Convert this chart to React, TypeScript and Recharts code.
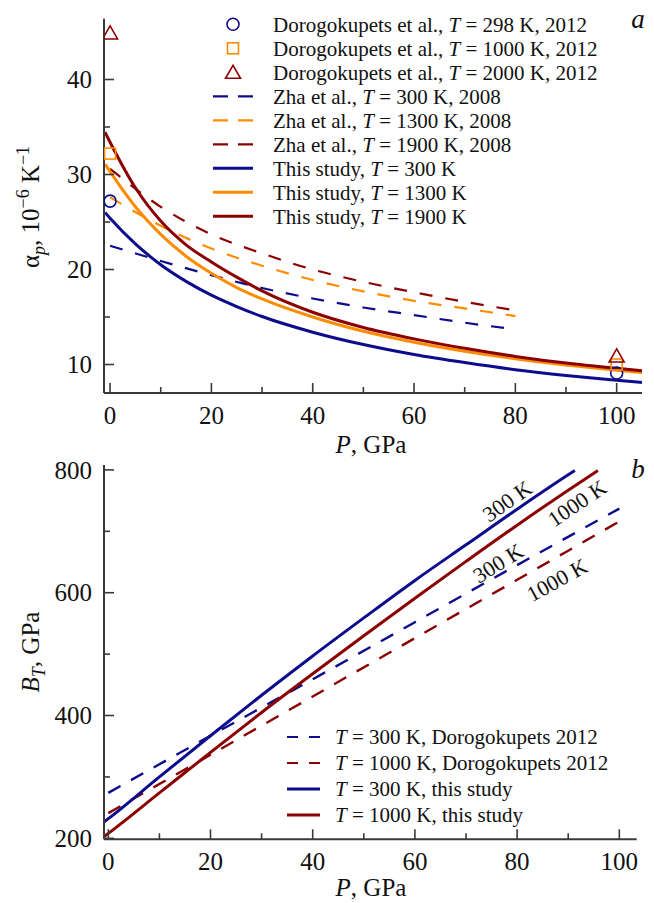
import React from 'react';
import { ComposedChart, Line, Scatter, XAxis, YAxis } from 'recharts';

const NAVY = '#0c0c8c';
const ORANGE = '#ff8c00';
const DARKRED = '#8b0000';
const AXIS = '#3a3a3a';
const FONT = "'Liberation Serif', 'Times New Roman', Times, serif";
const textStyle = { fontFamily: FONT };

// panel a: thermal expansion coefficient vs pressure
const pThis = [-1, 0, 5, 10, 15, 20, 25, 30, 40, 50, 60, 70, 80, 90, 100, 105];
const alphaThis300 = [26.0, 25.4, 22.7, 20.5, 18.75, 17.3, 16.1, 15.05, 13.4, 12.1, 11.05, 10.2, 9.45, 8.85, 8.35, 8.1];
const alphaThis1300 = [31.1, 30.3, 26.6, 23.7, 21.4, 19.6, 18.1, 16.9, 15.0, 13.5, 12.35, 11.4, 10.6, 9.95, 9.4, 9.15];
const alphaThis1900 = [34.45, 33.4, 28.6, 25.1, 22.6, 20.8, 19.2, 17.75, 15.5, 13.9, 12.7, 11.7, 10.85, 10.15, 9.6, 9.35];

const pZha = [0, 10, 20, 30, 40, 50, 60, 70, 80];
const alphaZha300 = [22.5, 20.9, 19.4, 18.05, 16.95, 16.0, 15.2, 14.4, 13.7];
const alphaZha1300 = [27.6, 24.6, 22.2, 20.4, 18.9, 17.7, 16.7, 15.9, 15.1];
const alphaZha1900 = [30.6, 26.6, 23.7, 21.7, 20.0, 18.7, 17.6, 16.6, 15.7];

const pDoro = [0, 100];
const alphaDoro298 = [27.2, 9.1];
const alphaDoro1000 = [32.2, 10.0];
const alphaDoro2000 = [44.9, 10.9];

// panel b: isothermal bulk modulus vs pressure
const pB300 = [-0.8, 0, 10, 20, 30, 40, 50, 60, 70, 80, 90, 91.3];
const bThis300 = [227, 232, 300, 367, 433, 497, 559, 620, 678, 736, 792, 799];
const pB1000 = [-0.8, 0, 10, 20, 30, 40, 50, 60, 70, 80, 90, 95.8];
const bThis1000 = [203, 208, 274, 340, 405, 468, 530, 591, 651, 710, 767, 799];
const pBDoro = [0, 20, 40, 60, 80, 100];
const bDoro300 = [274, 367, 459, 552, 645, 737];
const bDoro1000 = [241, 336, 431, 526, 621, 716];

const xTicks = [0, 10, 20, 30, 40, 50, 60, 70, 80, 90, 100];
const xLabels = [0, 20, 40, 60, 80, 100];
const yTicksA = [10, 15, 20, 25, 30, 35, 40];
const yLabelsA = [10, 20, 30, 40];
const yTicksB = [200, 300, 400, 500, 600, 700, 800];
const yLabelsB = [200, 400, 600, 800];

const zip = (xs: number[], ys: number[]) => xs.map((x, i) => ({ x, y: ys[i] }));

const makeXTick = (labels: number[]) => (props: any) => {
  const { x, y, payload } = props;
  const major = labels.includes(payload.value);
  return (
    <g>
      <line x1={x} x2={x} y1={y} y2={y - (major ? 10 : 6)} stroke={AXIS} strokeWidth={1.6} />
      {major && (
        <text x={x} y={y + 31} textAnchor="middle" fontSize={25} style={textStyle} fill="#111">
          {payload.value}
        </text>
      )}
    </g>
  );
};

const makeYTick = (labels: number[]) => (props: any) => {
  const { x, y, payload } = props;
  const major = labels.includes(payload.value);
  return (
    <g>
      <line x1={x} x2={x + (major ? 10 : 6)} y1={y} y2={y} stroke={AXIS} strokeWidth={1.6} />
      {major && (
        <text x={x - 12} y={y} dy="0.35em" textAnchor="end" fontSize={25} style={textStyle} fill="#111">
          {payload.value}
        </text>
      )}
    </g>
  );
};

const circleShape = (p: any) => <circle cx={p.cx} cy={p.cy} r={6} fill="none" stroke={NAVY} strokeWidth={1.6} />;
const squareShape = (p: any) => (
  <rect x={p.cx - 5.5} y={p.cy - 5.5} width={11} height={11} fill="none" stroke={ORANGE} strokeWidth={1.6} />
);
const triangleShape = (p: any) => (
  <polygon
    points={`${p.cx - 7.5},${p.cy + 6} ${p.cx + 7.5},${p.cy + 6} ${p.cx},${p.cy - 7}`}
    fill="none"
    stroke={DARKRED}
    strokeWidth={1.6}
  />
);

const legendA = [
  { kind: 'circle', color: NAVY, pre: 'Dorogokupets et al., ', post: ' = 298 K, 2012' },
  { kind: 'square', color: ORANGE, pre: 'Dorogokupets et al., ', post: ' = 1000 K, 2012' },
  { kind: 'triangle', color: DARKRED, pre: 'Dorogokupets et al., ', post: ' = 2000 K, 2012' },
  { kind: 'dash', color: NAVY, pre: 'Zha et al., ', post: ' = 300 K, 2008' },
  { kind: 'dash', color: ORANGE, pre: 'Zha et al., ', post: ' = 1300 K, 2008' },
  { kind: 'dash', color: DARKRED, pre: 'Zha et al., ', post: ' = 1900 K, 2008' },
  { kind: 'solid', color: NAVY, pre: 'This study, ', post: ' = 300 K' },
  { kind: 'solid', color: ORANGE, pre: 'This study, ', post: ' = 1300 K' },
  { kind: 'solid', color: DARKRED, pre: 'This study, ', post: ' = 1900 K' },
];

const legendB = [
  { kind: 'dash', color: NAVY, pre: '', post: ' = 300 K, Dorogokupets 2012' },
  { kind: 'dash', color: DARKRED, pre: '', post: ' = 1000 K, Dorogokupets 2012' },
  { kind: 'solid', color: NAVY, pre: '', post: ' = 300 K, this study' },
  { kind: 'solid', color: DARKRED, pre: '', post: ' = 1000 K, this study' },
];

const curveLabels = [
  { text: '300 K', x: 507, y: 501, angle: -35 },
  { text: '1000 K', x: 577, y: 503, angle: -34 },
  { text: '300 K', x: 498, y: 563, angle: -32 },
  { text: '1000 K', x: 557, y: 580, angle: -29 },
];

const LegendRow = ({ item, y, x0, x1, tx, dash }: any) => {
  const mid = (x0 + x1) / 2;
  let marker = null;
  if (item.kind === 'circle') marker = circleShape({ cx: mid, cy: y });
  else if (item.kind === 'square') marker = squareShape({ cx: mid, cy: y });
  else if (item.kind === 'triangle') marker = triangleShape({ cx: mid, cy: y });
  else
    marker = (
      <line
        x1={x0}
        x2={x1}
        y1={y}
        y2={y}
        stroke={item.color}
        strokeWidth={item.kind === 'dash' ? 2.2 : 3}
        strokeDasharray={item.kind === 'dash' ? dash : undefined}
      />
    );
  return (
    <g>
      {marker}
      <text x={tx} y={y} dy="0.35em" fontSize={21} style={textStyle} fill="#111">
        {item.pre}
        <tspan fontStyle="italic">T</tspan>
        {item.post}
      </text>
    </g>
  );
};

const Overlay = () => (
  <svg width={654} height={903} style={{ position: 'absolute', left: 0, top: 0, pointerEvents: 'none' }}>
    {legendA.map((item, i) => (
      <LegendRow key={i} item={item} y={24.3 + i * 24} x0={213} x1={253} tx={273} dash="15 10" />
    ))}
    {legendB.map((item, i) => (
      <LegendRow key={i} item={item} y={737 + i * 26} x0={287} x1={320} tx={335} dash="11 11" />
    ))}
    {curveLabels.map((c, i) => (
      <text
        key={i}
        x={c.x}
        y={c.y}
        dy="0.35em"
        textAnchor="middle"
        fontSize={22}
        style={textStyle}
        fill="#111"
        transform={`rotate(${c.angle}, ${c.x}, ${c.y})`}
      >
        {c.text}
      </text>
    ))}
    <text x={638} y={28} textAnchor="middle" fontSize={27} fontStyle="italic" style={textStyle} fill="#111">a</text>
    <text x={638} y={478} textAnchor="middle" fontSize={27} fontStyle="italic" style={textStyle} fill="#111">b</text>

    <text x={371} y={453} textAnchor="middle" fontSize={25} style={textStyle} fill="#111">
      <tspan fontStyle="italic">P</tspan>, GPa
    </text>
    <text x={371} y={896} textAnchor="middle" fontSize={25} style={textStyle} fill="#111">
      <tspan fontStyle="italic">P</tspan>, GPa
    </text>

    <text
      x={30}
      y={207}
      dy="0.35em"
      textAnchor="middle"
      fontSize={25}
      style={textStyle}
      fill="#111"
      transform="rotate(-90, 30, 207)"
    >
      α<tspan fontStyle="italic" fontSize={18} dy={6}>p</tspan>
      <tspan dy={-6}>, 10</tspan>
      <tspan fontSize={18} dy={-10}>−6</tspan>
      <tspan dy={10}> K</tspan>
      <tspan fontSize={18} dy={-10}>−1</tspan>
    </text>
    <text
      x={30}
      y={652}
      dy="0.35em"
      textAnchor="middle"
      fontSize={25}
      style={textStyle}
      fill="#111"
      transform="rotate(-90, 30, 652)"
    >
      <tspan fontStyle="italic">B</tspan>
      <tspan fontStyle="italic" fontSize={18} dy={6}>T</tspan>
      <tspan dy={-6}>, GPa</tspan>
    </text>
  </svg>
);

const axisLine = { stroke: AXIS, strokeWidth: 2 };

const App = () => {
  return (
    <div style={{ position: 'absolute', left: 0, top: 0, width: 654, height: 903, background: '#fff' }}>
      <div style={{ position: 'absolute', left: 0, top: 0 }}>
        <ComposedChart width={654} height={450} margin={{ top: 18.7, right: 12, left: 0, bottom: 0 }}>
          <XAxis
            type="number"
            dataKey="x"
            domain={[-1.2, 105]}
            allowDataOverflow
            ticks={xTicks}
            interval={0}
            tickLine={false}
            tickSize={0}
            tickMargin={0}
            height={57}
            axisLine={axisLine}
            tick={makeXTick(xLabels)}
          />
          <YAxis
            type="number"
            dataKey="y"
            domain={[7, 46.4]}
            allowDataOverflow
            ticks={yTicksA}
            interval={0}
            tickLine={false}
            tickSize={0}
            tickMargin={0}
            width={104}
            axisLine={axisLine}
            tick={makeYTick(yLabelsA)}
          />
          <Scatter data={zip(pDoro, alphaDoro298)} dataKey="y" shape={circleShape} isAnimationActive={false} />
          <Scatter data={zip(pDoro, alphaDoro1000)} dataKey="y" shape={squareShape} isAnimationActive={false} />
          <Scatter data={zip(pDoro, alphaDoro2000)} dataKey="y" shape={triangleShape} isAnimationActive={false} />
          <Line data={zip(pZha, alphaZha300)} dataKey="y" type="monotone" stroke={NAVY} strokeWidth={2.2} strokeDasharray="13 13" dot={false} activeDot={false} isAnimationActive={false} />
          <Line data={zip(pZha, alphaZha1300)} dataKey="y" type="monotone" stroke={ORANGE} strokeWidth={2.2} strokeDasharray="13 13" dot={false} activeDot={false} isAnimationActive={false} />
          <Line data={zip(pZha, alphaZha1900)} dataKey="y" type="monotone" stroke={DARKRED} strokeWidth={2.2} strokeDasharray="13 13" dot={false} activeDot={false} isAnimationActive={false} />
          <Line data={zip(pThis, alphaThis300)} dataKey="y" type="monotone" stroke={NAVY} strokeWidth={3} dot={false} activeDot={false} isAnimationActive={false} />
          <Line data={zip(pThis, alphaThis1300)} dataKey="y" type="monotone" stroke={ORANGE} strokeWidth={3} dot={false} activeDot={false} isAnimationActive={false} />
          <Line data={zip(pThis, alphaThis1900)} dataKey="y" type="monotone" stroke={DARKRED} strokeWidth={3} dot={false} activeDot={false} isAnimationActive={false} />
        </ComposedChart>
      </div>
      <div style={{ position: 'absolute', left: 0, top: 450 }}>
        <ComposedChart width={654} height={453} margin={{ top: 15, right: 17.3, left: 0, bottom: 0 }}>
          <XAxis
            type="number"
            dataKey="x"
            domain={[-0.84, 103.4]}
            allowDataOverflow
            ticks={xTicks}
            interval={0}
            tickLine={false}
            tickSize={0}
            tickMargin={0}
            height={63.7}
            axisLine={axisLine}
            tick={makeXTick(xLabels)}
          />
          <YAxis
            type="number"
            dataKey="y"
            domain={[198.4, 808]}
            allowDataOverflow
            ticks={yTicksB}
            interval={0}
            tickLine={false}
            tickSize={0}
            tickMargin={0}
            width={104}
            axisLine={axisLine}
            tick={makeYTick(yLabelsB)}
          />
          <Line data={zip(pBDoro, bDoro300)} dataKey="y" type="monotone" stroke={NAVY} strokeWidth={2.4} strokeDasharray="14 12" dot={false} activeDot={false} isAnimationActive={false} />
          <Line data={zip(pBDoro, bDoro1000)} dataKey="y" type="monotone" stroke={DARKRED} strokeWidth={2.4} strokeDasharray="14 12" dot={false} activeDot={false} isAnimationActive={false} />
          <Line data={zip(pB300, bThis300)} dataKey="y" type="monotone" stroke={NAVY} strokeWidth={3} dot={false} activeDot={false} isAnimationActive={false} />
          <Line data={zip(pB1000, bThis1000)} dataKey="y" type="monotone" stroke={DARKRED} strokeWidth={3} dot={false} activeDot={false} isAnimationActive={false} />
        </ComposedChart>
      </div>
      <Overlay />
    </div>
  );
};

export default App;
